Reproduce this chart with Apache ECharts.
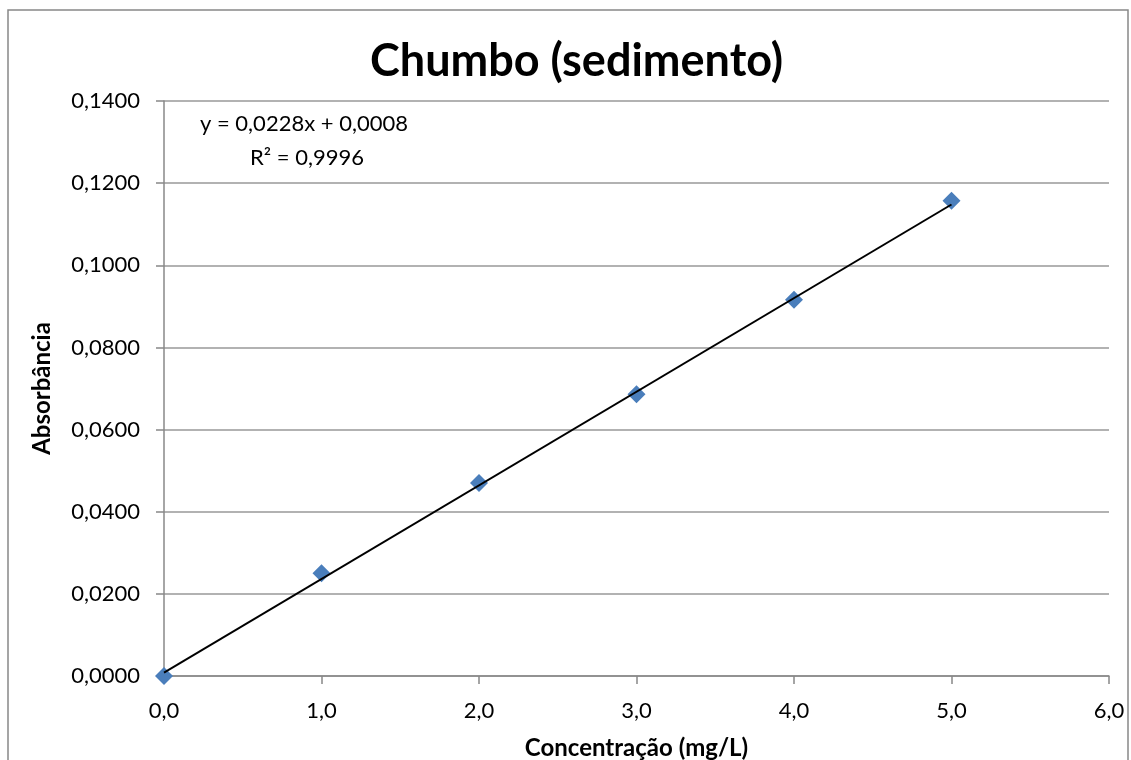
<!DOCTYPE html>
<html>
  <head>
    <meta charset="utf-8">
    <title>Chumbo (sedimento)</title>
    <style>
      html, body { margin: 0; padding: 0; background: #fff; }
    </style>
  </head>
  <body>
    <div id="main" style="width: 1131px;height:760px;"></div>
  </body>
  <script type="text/javascript" src="https://cdn.jsdelivr.net/npm/echarts@6/dist/echarts.min.js"></script>
  <script type="text/javascript">
      // dados
      var concentracao = [0, 1, 2, 3, 4, 5];
      var absorbancia = [0.0000, 0.0250, 0.0470, 0.0686, 0.0916, 0.1157];

      // linha de tendência (equação mostrada no gráfico)
      var trendSlope = 0.0228;
      var trendIntercept = 0.0008;
      var trendX = [0, 5];
      var equationLines = ['y = 0,0228x + 0,0008', 'R² = 0,9996'];

      var font = 'Lato, "Open Sans", sans-serif';
      var myChart = echarts.init(document.getElementById('main'));

      var pontos = concentracao.map(function (x, i) { return [x, absorbancia[i]]; });
      var tendencia = trendX.map(function (x) { return [x, trendSlope * x + trendIntercept]; });

      myChart.setOption({
          animation: false,
          title: {
              text: 'Chumbo (sedimento)',
              left: 365,
              top: 34,
              textStyle: { fontFamily: font, fontSize: 45, fontWeight: 'bold', color: '#000' }
          },
          grid: { left: 164, right: 22, top: 101, bottom: 84, outerBoundsMode: 'none' },
          graphic: [
              {
                  type: 'rect',
                  shape: { x: 8, y: 10, width: 1120, height: 780 },
                  style: { fill: 'none', stroke: '#888', lineWidth: 1.5 },
                  silent: true
              },
              {
                  type: 'text',
                  left: 200, top: 113,
                  style: { text: equationLines[0], font: '22px ' + font, fill: '#000' }
              },
              {
                  type: 'text',
                  left: 250, top: 147,
                  style: { text: equationLines[1], font: '22px ' + font, fill: '#000' }
              }
          ],
          xAxis: {
              type: 'value',
              min: 0, max: 6, interval: 1,
              name: 'Concentração (mg/L)',
              nameLocation: 'middle',
              nameGap: 60,
              nameTextStyle: { fontFamily: font, fontSize: 24, fontWeight: 'bold', color: '#000' },
              axisLine: { lineStyle: { color: '#888', width: 1.5 } },
              axisTick: { show: true, length: 8, lineStyle: { color: '#888', width: 1.5 } },
              axisLabel: {
                  margin: 24,
                  fontFamily: font, fontSize: 22, color: '#000',
                  formatter: function (v) { return v.toFixed(1).replace('.', ','); }
              },
              splitLine: { show: false }
          },
          yAxis: {
              type: 'value',
              min: 0, max: 0.14, interval: 0.02,
              name: 'Absorbância',
              nameLocation: 'middle',
              nameGap: 110,
              nameTextStyle: { fontFamily: font, fontSize: 24, fontWeight: 'bold', color: '#000' },
              axisLine: { show: true, lineStyle: { color: '#888', width: 1.5 } },
              axisTick: { show: true, length: 8, lineStyle: { color: '#888', width: 1.5 } },
              axisLabel: {
                  margin: 24,
                  fontFamily: font, fontSize: 22, color: '#000',
                  formatter: function (v) { return v.toFixed(4).replace('.', ','); }
              },
              splitLine: { show: true, lineStyle: { color: '#999', width: 1.5 } }
          },
          series: [
              {
                  name: 'Absorbância',
                  type: 'scatter',
                  symbol: 'diamond',
                  symbolSize: 18,
                  itemStyle: { color: '#4A7EBB', opacity: 1 },
                  data: pontos,
                  z: 2
              },
              {
                  name: 'Tendência',
                  type: 'line',
                  symbol: 'none',
                  lineStyle: { color: '#000', width: 2 },
                  data: tendencia,
                  z: 3
              }
          ]
      });
  </script>
</html>
